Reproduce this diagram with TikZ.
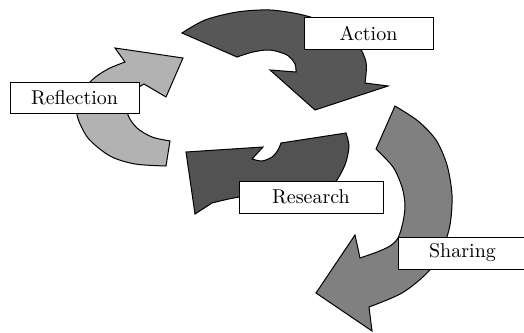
\documentclass[tikz,border=0pt]{standalone}

\definecolor{actiongray}{gray}{0.34}
\definecolor{researchgray}{gray}{0.32}
\definecolor{sharinggray}{gray}{0.50}
\definecolor{reflectiongray}{gray}{0.70}

\begin{document}
\begin{tikzpicture}[x=0.5pt,y=-0.5pt,
  cyclearrow/.style={draw=black,line width=0.5pt,line join=miter},
  labelbox/.style={draw=black,fill=white,line width=0.5pt,inner sep=0pt,
    minimum width=64.5pt,minimum height=16pt}]
\clip (0,0) rectangle (524,332);

% Action arrow (top, turning down to the right)
\filldraw[cyclearrow,fill=actiongray] (182,33)
  -- plot[smooth] coordinates {(182,33) (205,20) (237,12) (270,10) (303,15)
       (335,26) (356,42) (366,62) (365,83)}
  -- (388,86) -- (315,110) -- (270,70)
  -- plot[smooth] coordinates {(296,72) (295,64) (287,55) (270,50) (253,52) (237,57)}
  -- cycle;

% Sharing arrow (right, sweeping down and back to the left)
\filldraw[cyclearrow,fill=sharinggray] (376,149) -- (395,106)
  -- plot[smooth] coordinates {(395,106) (418,121) (436,140) (447,165) (452,195)
       (450,225) (442,250) (428,272) (402,293) (369,307)}
  -- (372,331) -- (316,293) -- (355,235)
  -- plot[smooth] coordinates {(360,258) (377,252) (390,246) (398,238) (403,222)
       (405,205) (402,187) (393,167) (376,149)}
  -- cycle;

% Research arrow (middle, a tight turn ending up to the left)
\filldraw[cyclearrow,fill=researchgray] (281,143) -- (346,133)
  -- plot[smooth] coordinates {(346,133) (349,146) (346,162) (340,175) (332,185)
       (310,192) (275,196) (240,197) (212,203)}
  -- (195,214) -- (186,152) -- (263,147)
  -- plot[smooth] coordinates {(252,159) (262,161) (272,157) (278,150) (281,143)}
  -- cycle;

% Reflection arrow (left, rising to the upper right)
\filldraw[cyclearrow,fill=reflectiongray] (170,141)
  -- plot[smooth] coordinates {(170,141) (152,137) (137,128) (128,115) (128,100)
       (135,90) (144,84)}
  -- (166,97) -- (183,58) -- (115,48)
  -- plot[smooth] coordinates {(125,62) (108,69) (92,80) (80,97) (77,115)
       (88,138) (110,156) (135,164) (166,166)}
  -- cycle;

% Label boxes on top
\node[labelbox] (action) at (368.5,33) {Action};
\node[labelbox,minimum height=15.5pt] (reflection) at (74.5,97.5) {Reflection};
\node[labelbox,minimum width=72pt] (research) at (311,197) {Research};
\node[labelbox] (sharing) at (462.5,253) {Sharing};

\end{tikzpicture}
\end{document}
